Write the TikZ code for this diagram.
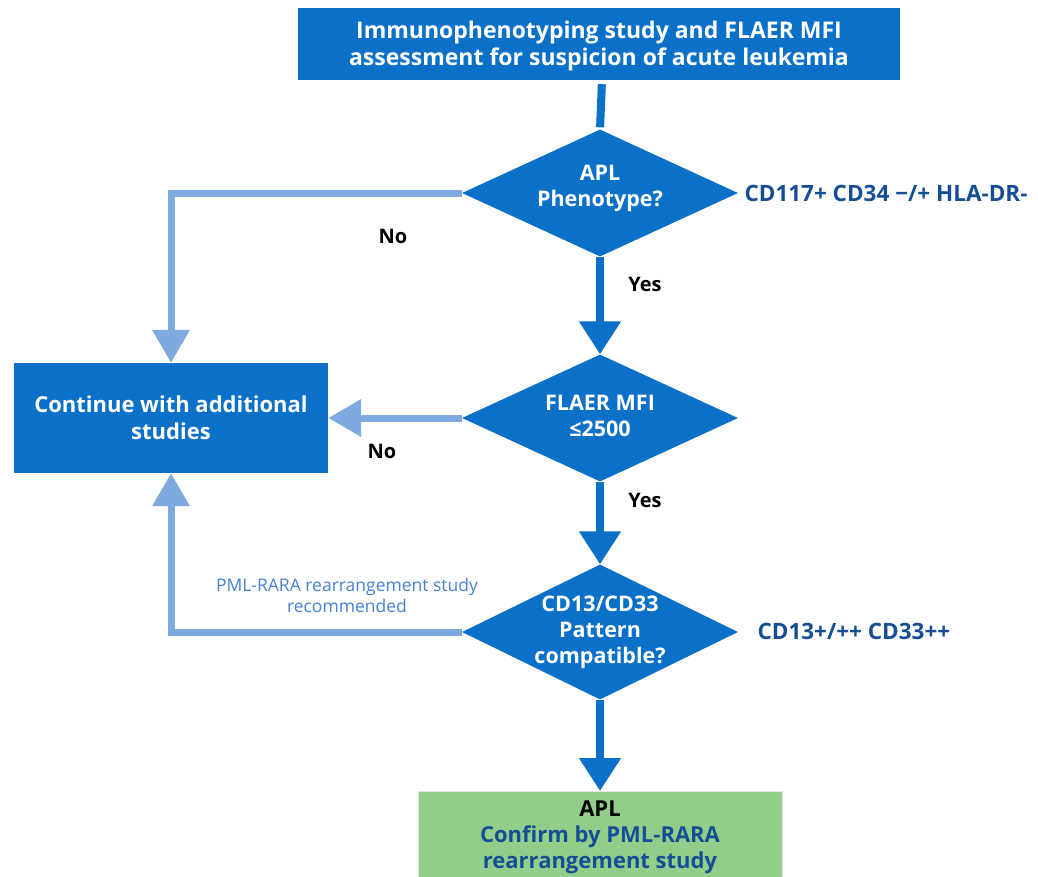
\documentclass[tikz,border=0pt]{standalone}
\usepackage{fontspec}
\setmainfont{Open Sans}
\usetikzlibrary{shapes.geometric,arrows.meta}
\definecolor{mainblue}{RGB}{10,112,200}
\definecolor{lightblue}{RGB}{126,170,224}
\definecolor{darktext}{RGB}{22,78,150}
\definecolor{labelblue}{RGB}{70,130,210}
\definecolor{greenbox}{RGB}{146,206,138}
\tikzset{
  bluebox/.style={rectangle, fill=mainblue, text=white, font=\fontsize{23}{27}\selectfont\bfseries, align=center, inner sep=0pt},
  decision/.style={diamond, fill=mainblue, minimum width=276pt, minimum height=127pt, inner sep=0pt},
  dtext/.style={text=white, font=\fontsize{21.5}{26}\selectfont\bfseries, align=center},
  sidetext/.style={text=darktext, font=\fontsize{22.5}{26}\selectfont\bfseries, anchor=west},
  yn/.style={text=black, font=\fontsize{20}{22}\selectfont\bfseries},
  darkarrow/.style={draw=mainblue, line width=8pt, -{Triangle[width=40pt,length=33pt]}},
  lightarrow/.style={draw=lightblue, line width=7pt, -{Triangle[width=36pt,length=33pt]}},
}
\begin{document}
\begin{tikzpicture}[x=1pt,y=-1pt]
\useasboundingbox (0,0) rectangle (1038,876);
\fill[white] (0,0) rectangle (1038,876);
% boxes
\node[bluebox, minimum width=602pt, minimum height=72pt] (top) at (599,44) {};
\node[bluebox] (toptext) at (599,46)
  {Immunophenotyping study and FLAER MFI\\assessment for suspicion of acute leukemia};
\node[bluebox, font=\fontsize{22}{27}\selectfont\bfseries, minimum width=314pt, minimum height=110pt] (left) at (171,418)
  {Continue with additional\\studies};
\node[rectangle, fill=greenbox, draw=black!10, line width=0.8pt, minimum width=364pt, minimum height=110pt, anchor=north] (apl) at (600,791) {};
\node[align=center, font=\fontsize{22}{26}\selectfont\bfseries, anchor=north, inner sep=0pt] (apltext) at (600,801)
  {\textcolor{black}{APL}\\\textcolor{darktext}{Confirm by PML-RARA}\\\textcolor{darktext}{rearrangement study}};
% decisions
\node[decision] (d1) at (600,193) {};
\node[dtext] (d1t) at (600,188) {APL\\Phenotype?};
\node[decision] (d2) at (600,418) {};
\node[dtext] (d2t) at (600,416) {FLAER MFI\\≤2500};
\node[decision, minimum height=135pt] (d3) at (600,632) {};
\node[dtext] (d3t) at (d3) {CD13/CD33\\Pattern\\compatible?};
% side texts
\node[sidetext] (s1) at (741,193) {CD117+ CD34 −/+ HLA-DR-};
\node[sidetext] (s3) at (754,631) {CD13+/++ CD33++};
% connectors
\draw[draw=mainblue, line width=8pt, shorten <=4pt, shorten >=2pt] (top.south -| 602,0) -- (d1.north);
\draw[lightarrow] (d1.west) -| (left.north);
\draw[darkarrow] (d1.south) -- (d2.north);
\draw[lightarrow] (d2.west) -- (left.east);
\draw[darkarrow] (d2.south) -- (d3.north);
\draw[lightarrow] (d3.west) -| (left.south);
\draw[darkarrow] (d3.south) -- (apl.north);
% labels
\node[yn] (no1) at (393,236) {No};
\node[yn] (yes1) at (645,284) {Yes};
\node[yn] (no2) at (382,451) {No};
\node[yn] (yes2) at (645,500) {Yes};
\node[text=labelblue, font=\fontsize{17.5}{21}\selectfont, align=center] (pml) at (347,595)
  {PML-RARA rearrangement study\\recommended};
\end{tikzpicture}
\end{document}
